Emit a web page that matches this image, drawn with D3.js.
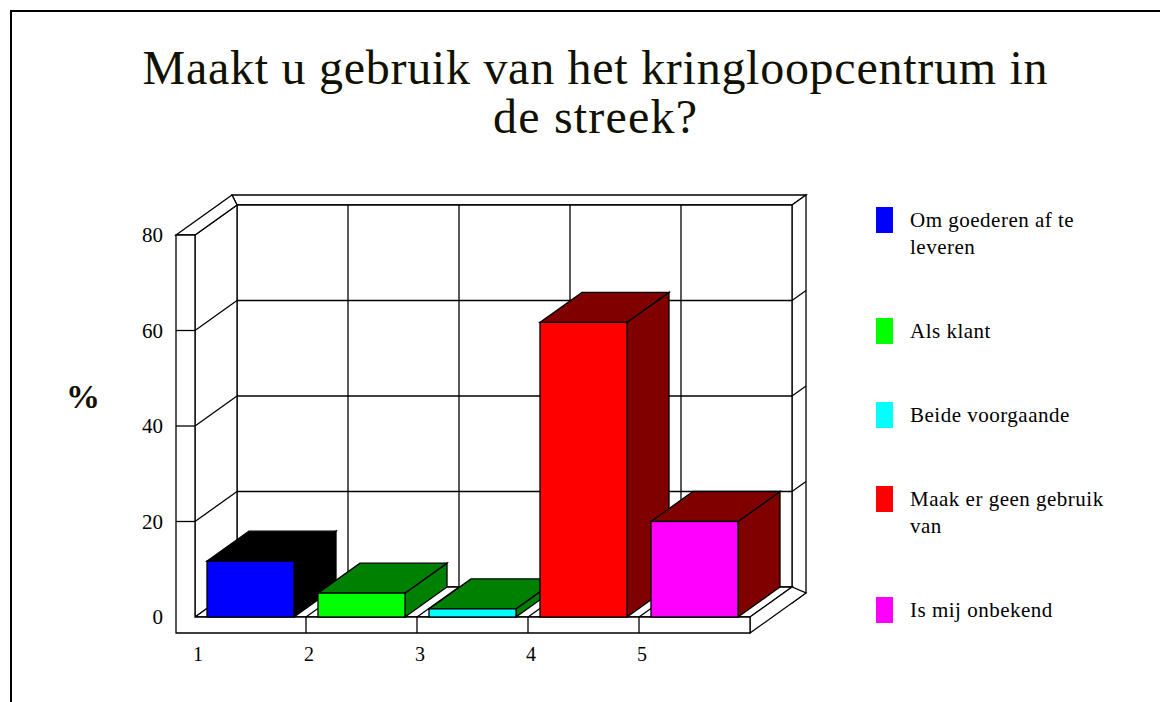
<!DOCTYPE html>
<html>
<head>
    <title>Kringloopcentrum</title>
    <script src="https://d3js.org/d3.v7.min.js"></script>
    <style>
        body { margin: 0; background: #fff; }
        text { font-family: "Liberation Serif", "Times New Roman", serif; }
    </style>
</head>
<body>
    <svg width="1160" height="702"></svg>
    <script>
        // data
        var categories = ["1", "2", "3", "4", "5"];
        var values = [11.7, 5.0, 1.7, 61.7, 20.0];
        var legendLabels = ["Om goederen af te leveren", "Als klant", "Beide voorgaande",
                            "Maak er geen gebruik van", "Is mij onbekend"];
        var yTicks = [0, 20, 40, 60, 80];
        var titleLines = ["Maakt u gebruik van het kringloopcentrum in", "de streek?"];

        var frontColors = ["#0000ff", "#00ff00", "#00ffff", "#ff0000", "#ff00ff"];
        var shadeColors = ["#000000", "#008000", "#008000", "#800000", "#800000"];

        var svg = d3.select("svg");

        // outer frame
        svg.append("path")
            .attr("d", "M11,720V11H1180")
            .attr("fill", "none").attr("stroke", "#000").attr("stroke-width", 2);

        // title (the original renders a bit wider than Liberation Serif)
        var titleWidths = [905, 204];
        titleLines.forEach(function(t, i) {
            svg.append("text")
                .attr("x", 595).attr("y", 84 + i * 49)
                .attr("text-anchor", "middle")
                .attr("textLength", titleWidths[i]).attr("lengthAdjust", "spacing")
                .style("font-size", "48px").style("fill", "#111100")
                .text(t);
        });

        // geometry
        var wallOuter = 176, plotLeft = 195, plotRight = 750, floorBottom = 633;
        var DX = 56, DY = -40, face = 0.75; // depth offsets; back wall face at 0.75

        var y = d3.scaleLinear().domain([0, 80]).range([617, 235]);
        var edge = d3.scaleLinear().domain([0, categories.length]).range([plotLeft, plotRight]);
        var x = d3.scaleBand().domain(categories).range([plotLeft, plotRight])
            .paddingInner(0.216).paddingOuter(0.108);
        var color = d3.scaleOrdinal().domain(categories).range(frontColors);
        var shade = d3.scaleOrdinal().domain(categories).range(shadeColors);

        function P(px, py, d) { return [px + DX * d, py + DY * d]; }
        function poly(pts) { return "M" + pts.map(function(p) { return p.join(","); }).join("L") + "Z"; }
        function line(a, b) {
            svg.append("line")
                .attr("x1", a[0]).attr("y1", a[1]).attr("x2", b[0]).attr("y2", b[1])
                .attr("stroke", "#000").attr("stroke-width", 1.3);
        }

        var y0 = y(0), yTop = y(80);
        var g = svg.append("g").attr("fill", "#fff").attr("stroke", "#000").attr("stroke-width", 1.3);

        // back wall (top of slab, right end, face)
        g.append("path").attr("d", poly([P(wallOuter, yTop, 1), P(plotRight, yTop, 1),
            P(plotRight, yTop, face), P(plotLeft, yTop, face)]));
        g.append("path").attr("d", poly([P(plotRight, yTop, face), P(plotRight, yTop, 1),
            P(plotRight, floorBottom, 1), P(plotRight, floorBottom, face)]));
        g.append("path").attr("d", poly([P(plotLeft, yTop, face), P(plotRight, yTop, face),
            P(plotRight, y0, face), P(plotLeft, y0, face)]));

        // left wall inner face and floor top
        g.append("path").attr("d", poly([[plotLeft, yTop], P(plotLeft, yTop, face),
            P(plotLeft, y0, face), [plotLeft, y0]]));
        g.append("path").attr("d", poly([[plotLeft, y0], [plotRight, y0],
            P(plotRight, y0, face), P(plotLeft, y0, face)]));
        // floor right end
        g.append("path").attr("d", poly([[plotRight, y0], P(plotRight, y0, face),
            P(plotRight, floorBottom, 1), [plotRight, floorBottom]]));
        // left wall top
        g.append("path").attr("d", poly([[wallOuter, yTop], P(wallOuter, yTop, 1),
            P(plotLeft, yTop, face), [plotLeft, yTop]]));
        // front L (left wall + floor front)
        g.append("path").attr("d", "M" + wallOuter + "," + yTop + "H" + plotLeft + "V" + y0 +
            "H" + plotRight + "V" + floorBottom + "H" + wallOuter + "Z");

        // grid
        yTicks.slice(1, -1).forEach(function(v) {
            line([wallOuter, y(v)], [plotLeft, y(v)]);
            line([plotLeft, y(v)], P(plotLeft, y(v), face));
            line(P(plotLeft, y(v), face), P(plotRight, y(v), face));
            line(P(plotRight, y(v), face), P(plotRight, y(v), 1));
        });
        d3.range(1, categories.length).forEach(function(i) {
            line(P(edge(i), yTop, face), P(edge(i), y0, face));
            line([edge(i), y0], P(edge(i), y0, face));
            line([edge(i), y0], [edge(i), floorBottom]);
        });

        // bars
        var bw = x.bandwidth();
        var bars = svg.append("g").selectAll("g").data(categories).enter().append("g")
            .attr("stroke", "#000").attr("stroke-width", 1.3);
        bars.append("path")
            .attr("fill", function(d) { return shade(d); })
            .attr("d", function(d, i) {
                var x0 = x(d), yt = y(values[i]);
                return poly([[x0 + bw, yt], P(x0 + bw, yt, face), P(x0 + bw, y0, face), [x0 + bw, y0]]);
            });
        bars.append("path")
            .attr("fill", function(d) { return shade(d); })
            .attr("d", function(d, i) {
                var x0 = x(d), yt = y(values[i]);
                return poly([[x0, yt], [x0 + bw, yt], P(x0 + bw, yt, face), P(x0, yt, face)]);
            });
        bars.append("rect")
            .attr("fill", function(d) { return color(d); })
            .attr("x", function(d) { return x(d); })
            .attr("y", function(d, i) { return y(values[i]); })
            .attr("width", bw)
            .attr("height", function(d, i) { return y0 - y(values[i]); });

        // axis labels
        svg.append("g").selectAll("text").data(yTicks).enter().append("text")
            .attr("x", 163).attr("y", function(d) { return y(d) + 7; })
            .attr("text-anchor", "end").style("font-size", "21px")
            .text(function(d) { return d; });
        svg.append("g").selectAll("text").data(categories).enter().append("text")
            .attr("x", function(d, i) { return edge(i) + 3; }).attr("y", 661)
            .attr("text-anchor", "middle").style("font-size", "20px")
            .text(function(d) { return d; });
        svg.append("text")
            .attr("x", 83).attr("y", 408).attr("text-anchor", "middle")
            .style("font-size", "34px").style("font-weight", "bold").style("fill", "#111100")
            .text("%");

        // legend
        var ly = 227;
        legendLabels.forEach(function(label, i) {
            var t = svg.append("text").attr("x", 910).attr("y", ly)
                .style("font-size", "21px").style("letter-spacing", "0.5px");
            var words = label.split(" "), cur = [], lines = [];
            var tmp = t.append("tspan");
            words.forEach(function(w) {
                tmp.text(cur.concat(w).join(" "));
                if (cur.length && tmp.node().getComputedTextLength() > 210) {
                    lines.push(cur.join(" ")); cur = [w];
                } else cur.push(w);
            });
            lines.push(cur.join(" "));
            tmp.remove();
            lines.forEach(function(l, j) {
                t.append("tspan").attr("x", 910).attr("dy", j ? 27 : 0).text(l);
            });
            svg.append("rect")
                .attr("x", 876).attr("y", ly - 20).attr("width", 17).attr("height", 26)
                .attr("fill", color(categories[i]));
            ly += 27 * lines.length + 57;
        });
    </script>
</body>
</html>
